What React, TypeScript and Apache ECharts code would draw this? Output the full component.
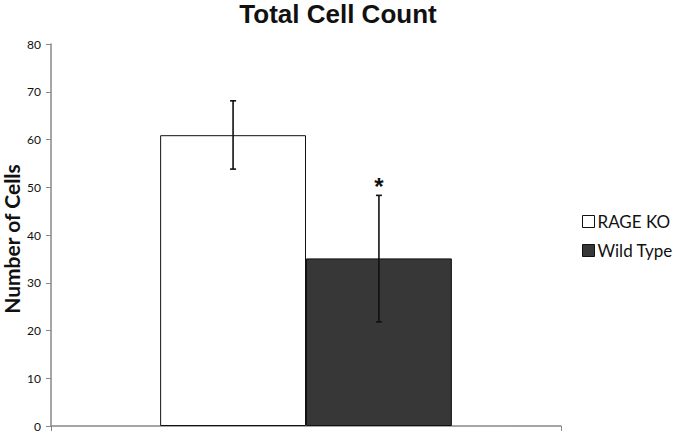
import React, { useEffect, useRef } from "react";
import * as echarts from "echarts";

const categories = ["Total"];
const seriesNames = ["RAGE KO", "Wild Type"];
const means = [60.9, 35.1];
const errLow = [53.8, 21.8];
const errHigh = [68.1, 48.3];
const significance = ["", "*"];
const yTicks = { min: 0, max: 80, interval: 10 };

export default function App() {
  const ref = useRef<HTMLDivElement>(null);
  useEffect(() => {
    if (!ref.current) return;
    const chart = echarts.init(ref.current, null, { renderer: "svg" });
    const barFrac = 0.286;
    const colors = ["#ffffff", "#373737"];
    const errorSeries = (idx: number) => ({
      type: "custom",
      name: seriesNames[idx] + " error",
      data: [[0, errLow[idx], errHigh[idx]]],
      z: 10,
      silent: true,
      renderItem: (params: any, api: any) => {
        const catW = api.size([1, 0])[0];
        const off = (idx === 0 ? -1 : 1) * catW * barFrac / 2;
        const lo = api.coord([api.value(0), api.value(1)]);
        const hi = api.coord([api.value(0), api.value(2)]);
        const x = lo[0] + off;
        const cap = 3;
        const style = { stroke: "#111", lineWidth: 1.6 };
        const children: any[] = [
          { type: "line", shape: { x1: x, y1: lo[1], x2: x, y2: hi[1] }, style },
          { type: "line", shape: { x1: x - cap, y1: lo[1], x2: x + cap, y2: lo[1] }, style },
          { type: "line", shape: { x1: x - cap, y1: hi[1], x2: x + cap, y2: hi[1] }, style },
        ];
        if (significance[idx]) {
          children.push({
            type: "text",
            style: {
              text: significance[idx],
              x: x,
              y: hi[1] + 3,
              align: "center",
              verticalAlign: "bottom",
              font: "bold 24px 'Liberation Sans', Arial, sans-serif",
              fill: "#111",
            },
          });
        }
        return { type: "group", children };
      },
    });
    chart.setOption({
      animation: false,
      backgroundColor: "#ffffff",
      title: {
        text: "Total Cell Count",
        left: 333,
        textAlign: "center",
        top: -4,
        textStyle: {
          fontFamily: "'Liberation Sans', Arial, sans-serif",
          fontWeight: "bold",
          fontSize: 26,
          color: "#111",
        },
      },
      legend: {
        orient: "vertical",
        left: 577,
        top: 208,
        itemWidth: 12,
        itemHeight: 12,
        itemGap: 12,
        data: seriesNames.map((n, i) => ({
          name: n,
          icon: "rect",
          itemStyle: { color: colors[i], borderColor: "#111", borderWidth: 1 },
        })),
        textStyle: { fontFamily: "Lato, 'Open Sans', sans-serif", fontSize: 17, color: "#111", padding: [0, 0, 0, -2] },
        selectedMode: false,
      },
      grid: { left: 51, right: 118, top: 44, bottom: 7, containLabel: false, outerBoundsMode: "none" },
      xAxis: {
        type: "category",
        data: categories,
        axisLine: { lineStyle: { color: "#888", width: 1.5 } },
        axisTick: { show: true, length: 5, lineStyle: { color: "#888" } },
        axisLabel: { show: false },
      },
      yAxis: {
        type: "value",
        min: yTicks.min,
        max: yTicks.max,
        interval: yTicks.interval,
        name: "Number of Cells",
        nameLocation: "middle",
        nameGap: 30,
        nameMoveOverlap: false,
        nameTextStyle: {
          fontFamily: "Lato, 'Open Sans', sans-serif",
          fontWeight: "bold",
          fontSize: 21,
          lineHeight: 20,
          color: "#111",
          padding: [0, 8, 0, 0],
        },
        axisLine: { show: true, lineStyle: { color: "#888", width: 1.5 } },
        axisTick: { show: true, length: 5, lineStyle: { color: "#888" } },
        axisLabel: {
          fontFamily: "Lato, 'Open Sans', sans-serif",
          fontSize: 12,
          color: "#111",
          margin: 10,
        },
        splitLine: { show: false },
      },
      series: [
        {
          type: "bar",
          name: seriesNames[0],
          data: [means[0]],
          barWidth: (barFrac * 100).toFixed(1) + "%",
          barGap: "0%",
          itemStyle: { color: colors[0], borderColor: "#111", borderWidth: 1 },
        },
        {
          type: "bar",
          name: seriesNames[1],
          data: [means[1]],
          barWidth: (barFrac * 100).toFixed(1) + "%",
          barGap: "0%",
          itemStyle: { color: colors[1], borderColor: "#111", borderWidth: 1 },
        },
        errorSeries(0),
        errorSeries(1),
      ],
    });
    return () => chart.dispose();
  }, []);
  return (
    <div
      ref={ref}
      style={{ position: "fixed", left: 0, top: 0, width: 679, height: 433 }}
    />
  );
}
